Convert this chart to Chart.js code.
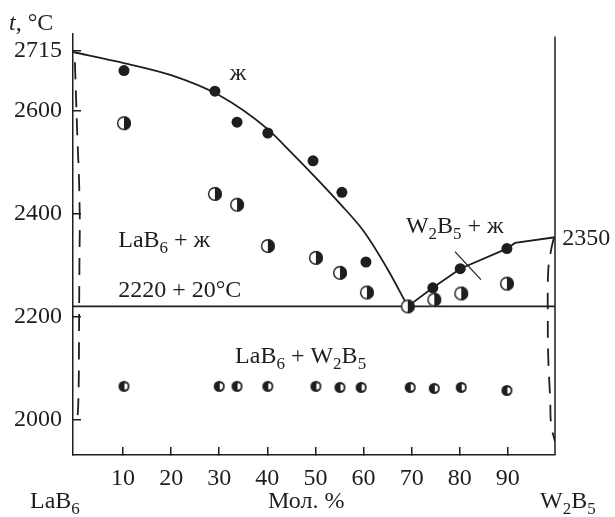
<!DOCTYPE html>
<html lang="ru">
<head>
<meta charset="UTF-8">
<title>LaB6 – W2B5</title>
<script src="https://cdn.jsdelivr.net/npm/chart.js@4.4.0/dist/chart.umd.min.js"></script>
<style>
  html, body { margin: 0; padding: 0; background: #fff; }
  canvas { display: block; }
</style>
</head>
<body>
<canvas id="phase" width="615" height="517"></canvas>
<script>
// liquidus, LaB6 side (smooth curve)
const liqLeftX = [-0.4, 10, 20, 30, 40, 45, 50, 55, 60, 65, 69.2];
const liqLeftT = [2713, 2692, 2668, 2629, 2564, 2518, 2470, 2420, 2366, 2292, 2220];
// liquidus, W2B5 side (broken line)
const liqRightX = [69.2, 74.4, 80.1, 89.8, 91.5, 99.8];
const liqRightT = [2220, 2256, 2293, 2332, 2343, 2354];
// eutectic horizontal
const eutX = [-0.4, 99.8];
const eutT = [2220, 2220];
// dashed solubility limits
const lbDashX = [0.0, 0.25, 0.5, 0.9, 1.05, 0.9, 0.8, 0.45];
const lbDashT = [2693, 2620, 2550, 2450, 2380, 2250, 2080, 1998];
const wbDashX = [99.6, 99.0, 98.4, 98.3, 98.4, 98.8, 99.0, 99.8];
const wbDashT = [2354, 2330, 2290, 2200, 2120, 2040, 1990, 1958];
// leader mark across the W2B5 liquidus
const leaderX = [79.0, 84.4];
const leaderT = [2326, 2272];

// experimental points
const liquidX = [10.2, 29.1, 33.7, 40.1, 49.5, 55.5, 60.5, 74.4, 80.1, 89.8];
const liquidT = [2677, 2637, 2577, 2556, 2502, 2441, 2306, 2256, 2293, 2332];
const twoPhX = [10.2, 29.1, 33.7, 40.1, 50.1, 55.1, 60.7, 69.2, 74.7, 80.3, 89.8];
const twoPhT = [2575, 2438, 2417, 2337, 2314, 2285, 2247, 2220, 2233, 2245, 2264];
const solidX = [10.2, 30, 33.7, 40.1, 50.1, 55.1, 59.5, 69.7, 74.7, 80.3, 89.8];
const solidT = [2065, 2065, 2065, 2065, 2065, 2063, 2063, 2063, 2061, 2063, 2057];

const xTicks = [10, 20, 30, 40, 50, 60, 70, 80, 90];
const yTicks = [2000, 2200, 2400, 2600, 2715];

const INK = '#1e1e1e';
const SERIF = "'Liberation Serif', 'Times New Roman', serif";
Chart.defaults.font.family = SERIF;

function pts(xs, ys) {
    return xs.map((x, i) => ({ x: x, y: ys[i] }));
}

// ◑ : left half white, right half black
function halfRight(r) {
    const c = document.createElement('canvas');
    c.width = c.height = 2 * r + 2;
    const g = c.getContext('2d');
    const m = r + 1;
    g.beginPath(); g.arc(m, m, r, 0, 2 * Math.PI); g.fillStyle = '#fff'; g.fill();
    g.beginPath(); g.arc(m, m, r, -Math.PI / 2, Math.PI / 2); g.closePath();
    g.fillStyle = INK; g.fill();
    g.beginPath(); g.arc(m, m, r - 0.7, 0, 2 * Math.PI);
    g.lineWidth = 1.4; g.strokeStyle = INK; g.stroke();
    return c;
}

// ◐ : dark disc with a small white right part
function darkLeft(r) {
    const c = document.createElement('canvas');
    c.width = c.height = 2 * r + 2;
    const g = c.getContext('2d');
    const m = r + 1;
    g.beginPath(); g.arc(m, m, r, 0, 2 * Math.PI); g.fillStyle = INK; g.fill();
    g.beginPath(); g.arc(m + 0.5, m, r - 2.3, -Math.PI / 2, Math.PI / 2); g.closePath();
    g.fillStyle = '#fff'; g.fill();
    return c;
}

function lineSet(xs, ys, extra) {
    return Object.assign({
        type: 'scatter',
        data: pts(xs, ys),
        showLine: true,
        borderColor: INK,
        borderWidth: 1.8,
        pointRadius: 0,
        fill: false
    }, extra || {});
}

// text with subscripts / italics: [text, kind] kind 0 normal, 1 sub, 2 italic
function drawParts(ctx, parts, x, y) {
    for (const [txt, kind] of parts) {
        if (kind === 1) ctx.font = '17px ' + SERIF;
        else if (kind === 2) ctx.font = 'italic 24px ' + SERIF;
        else ctx.font = '24px ' + SERIF;
        ctx.fillText(txt, x, y + (kind === 1 ? 6 : 0));
        x += ctx.measureText(txt).width;
    }
}

const labelsPlugin = {
    id: 'labels',
    afterDraw(chart) {
        const ctx = chart.ctx;
        const xs = chart.scales.x, ys = chart.scales.y;
        const a = chart.chartArea;
        ctx.save();
        // right frame
        ctx.strokeStyle = INK;
        ctx.lineWidth = 1.5;
        ctx.beginPath();
        ctx.moveTo(a.right, a.top + 3);
        ctx.lineTo(a.right, a.bottom);
        ctx.stroke();

        ctx.fillStyle = INK;
        ctx.textBaseline = 'alphabetic';
        ctx.textAlign = 'left';
        const at = (px, t) => [xs.getPixelForValue(px), ys.getPixelForValue(t)];
        let p;
        p = at(32.2, 2658); drawParts(ctx, [['ж', 0]], p[0], p[1]);
        p = at(9.0, 2336); drawParts(ctx, [['LaB', 0], ['6', 1], [' + ж', 0]], p[0], p[1]);
        p = at(9.0, 2239); drawParts(ctx, [['2220 + 20°C', 0]], p[0], p[1]);
        p = at(68.8, 2362); drawParts(ctx, [['W', 0], ['2', 1], ['B', 0], ['5', 1], [' + ж', 0]], p[0], p[1]);
        p = at(101.3, 2339); drawParts(ctx, [['2350', 0]], p[0], p[1]);
        p = at(33.3, 2111); drawParts(ctx, [['LaB', 0], ['6', 1], [' + W', 0], ['2', 1], ['B', 0], ['5', 1]], p[0], p[1]);

        // outside captions
        drawParts(ctx, [['t', 2], [', °C', 0]], 9, 30);
        drawParts(ctx, [['LaB', 0], ['6', 1]], 30, 508);
        drawParts(ctx, [['Мол. %', 0]], 268, 508);
        drawParts(ctx, [['W', 0], ['2', 1], ['B', 0], ['5', 1]], 540, 508);
        ctx.restore();
    }
};

const axisCommon = {
    type: 'linear',
    grid: { drawOnChartArea: false, drawTicks: true, tickLength: -8, color: INK, lineWidth: 1.5 },
    border: { display: true, color: INK, width: 1.5 },
    ticks: {
        color: INK,
        font: { family: SERIF, size: 24 },
        maxRotation: 0,
        autoSkip: false,
        callback: v => String(v)
    }
};

new Chart(document.getElementById('phase'), {
    type: 'scatter',
    data: {
        datasets: [
            { data: pts(twoPhX, twoPhT), pointStyle: halfRight(7), pointRadius: 7 },
            { data: pts(liquidX, liquidT), pointStyle: 'circle', pointRadius: 5.5, backgroundColor: INK, borderWidth: 0 },
            { data: pts(solidX, solidT), pointStyle: darkLeft(5.5), pointRadius: 6 },
            lineSet(liqLeftX, liqLeftT, { cubicInterpolationMode: 'monotone' }),
            lineSet(liqRightX, liqRightT),
            lineSet(eutX, eutT, { borderWidth: 1.6 }),
            lineSet(leaderX, leaderT, { borderWidth: 1.2 }),
            lineSet(lbDashX, lbDashT, { borderDash: [17, 11], borderWidth: 1.8, cubicInterpolationMode: 'monotone', tension: 0.4 }),
            lineSet(wbDashX, wbDashT, { borderDash: [17, 11], borderWidth: 1.8, tension: 0.4 })
        ]
    },
    options: {
        responsive: false,
        animation: false,
        devicePixelRatio: 1,
        layout: { padding: { top: 33, right: 60, left: 0, bottom: 0 } },
        plugins: { legend: { display: false }, tooltip: { enabled: false } },
        scales: {
            x: Object.assign({}, axisCommon, {
                min: -0.4, max: 99.8,
                ticks: Object.assign({}, axisCommon.ticks, { padding: 17 }),
                afterBuildTicks: s => { s.ticks = xTicks.map(v => ({ value: v })); },
                afterFit: s => { s.height = 62; }
            }),
            y: Object.assign({}, axisCommon, {
                min: 1932, max: 2749,
                ticks: Object.assign({}, axisCommon.ticks, { padding: 19 }),
                afterBuildTicks: s => { s.ticks = yTicks.map(v => ({ value: v })); },
                afterFit: s => { s.width = 73; }
            })
        }
    },
    plugins: [labelsPlugin]
});
</script>
</body>
</html>
